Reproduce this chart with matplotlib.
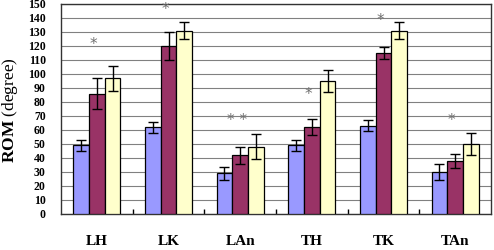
import matplotlib
matplotlib.use("Agg")
import matplotlib.pyplot as plt
import numpy as np

categories = ["LH", "LK", "LAn", "TH", "TK", "TAn"]
series1 = [49, 62, 29, 49, 63, 30]
series1_err = [4, 4, 4.5, 4, 4, 5.5]
series2 = [86, 120, 42, 62, 115, 38]
series2_err = [11, 10, 6, 5.5, 4.5, 5]
series3 = [97, 131, 48, 95, 131, 50]
series3_err = [9, 6, 9, 8, 6, 8]
sig_labels = ["*", "*", "* *", "*", "*", "*"]
sig_y = [121, 146, 67, 85, 138, 67]
yticks = list(range(0, 151, 10))

plt.rcParams["mathtext.fontset"] = "custom"
plt.rcParams["mathtext.rm"] = "Liberation Serif"
plt.rcParams["mathtext.bf"] = "Liberation Serif:bold"
plt.rcParams["font.family"] = "Liberation Serif"

fig = plt.figure(figsize=(4.94, 2.5), dpi=100)
ax = fig.add_axes([61/494, 36/250, 430/494, 210/250])

x = np.arange(len(categories))
w = 0.219
colors = ["#9999FF", "#993366", "#FFFFCC"]
errkw = dict(ecolor="black", elinewidth=1, capsize=3.5, capthick=1)
for off, vals, errs, c in zip([-w, 0, w], [series1, series2, series3],
                              [series1_err, series2_err, series3_err], colors):
    ax.bar(x + off, vals, w, yerr=errs, color=c, edgecolor="black",
           linewidth=0.9, error_kw=errkw, zorder=3)

for xi, s, yv in zip(x, sig_labels, sig_y):
    ax.text(xi - 0.05, yv, s, ha="center", va="center", fontsize=11,
            color="#707070", family="DejaVu Sans", zorder=4)

ax.set_xlim(-0.5, len(categories) - 0.5)
ax.set_ylim(0, 150)
ax.set_yticks(yticks)
ax.set_yticklabels([str(t) for t in yticks], fontsize=8.5, fontweight="bold")
ax.tick_params(axis="y", length=0, pad=11)
ax.set_xticks(x)
ax.set_xticklabels(categories, fontsize=11, fontweight="bold")
ax.tick_params(axis="x", which="major", length=0, pad=15)
ax.set_xticks(np.arange(0.5, len(categories) - 0.5, 1), minor=True)
ax.tick_params(axis="x", which="minor", direction="in", length=3.5, width=1, color="black")

ax.yaxis.grid(True, color="#808080", linewidth=0.8, zorder=0)
ax.set_axisbelow(True)
for sp in ax.spines.values():
    sp.set_color("#333333")
    sp.set_linewidth(1)

fig.text(10/494, 0.56, r"$\mathbf{ROM}$ (degree)", rotation=90, ha="center",
         va="center", fontsize=12.5)

fig.savefig("out.png", dpi=100)
